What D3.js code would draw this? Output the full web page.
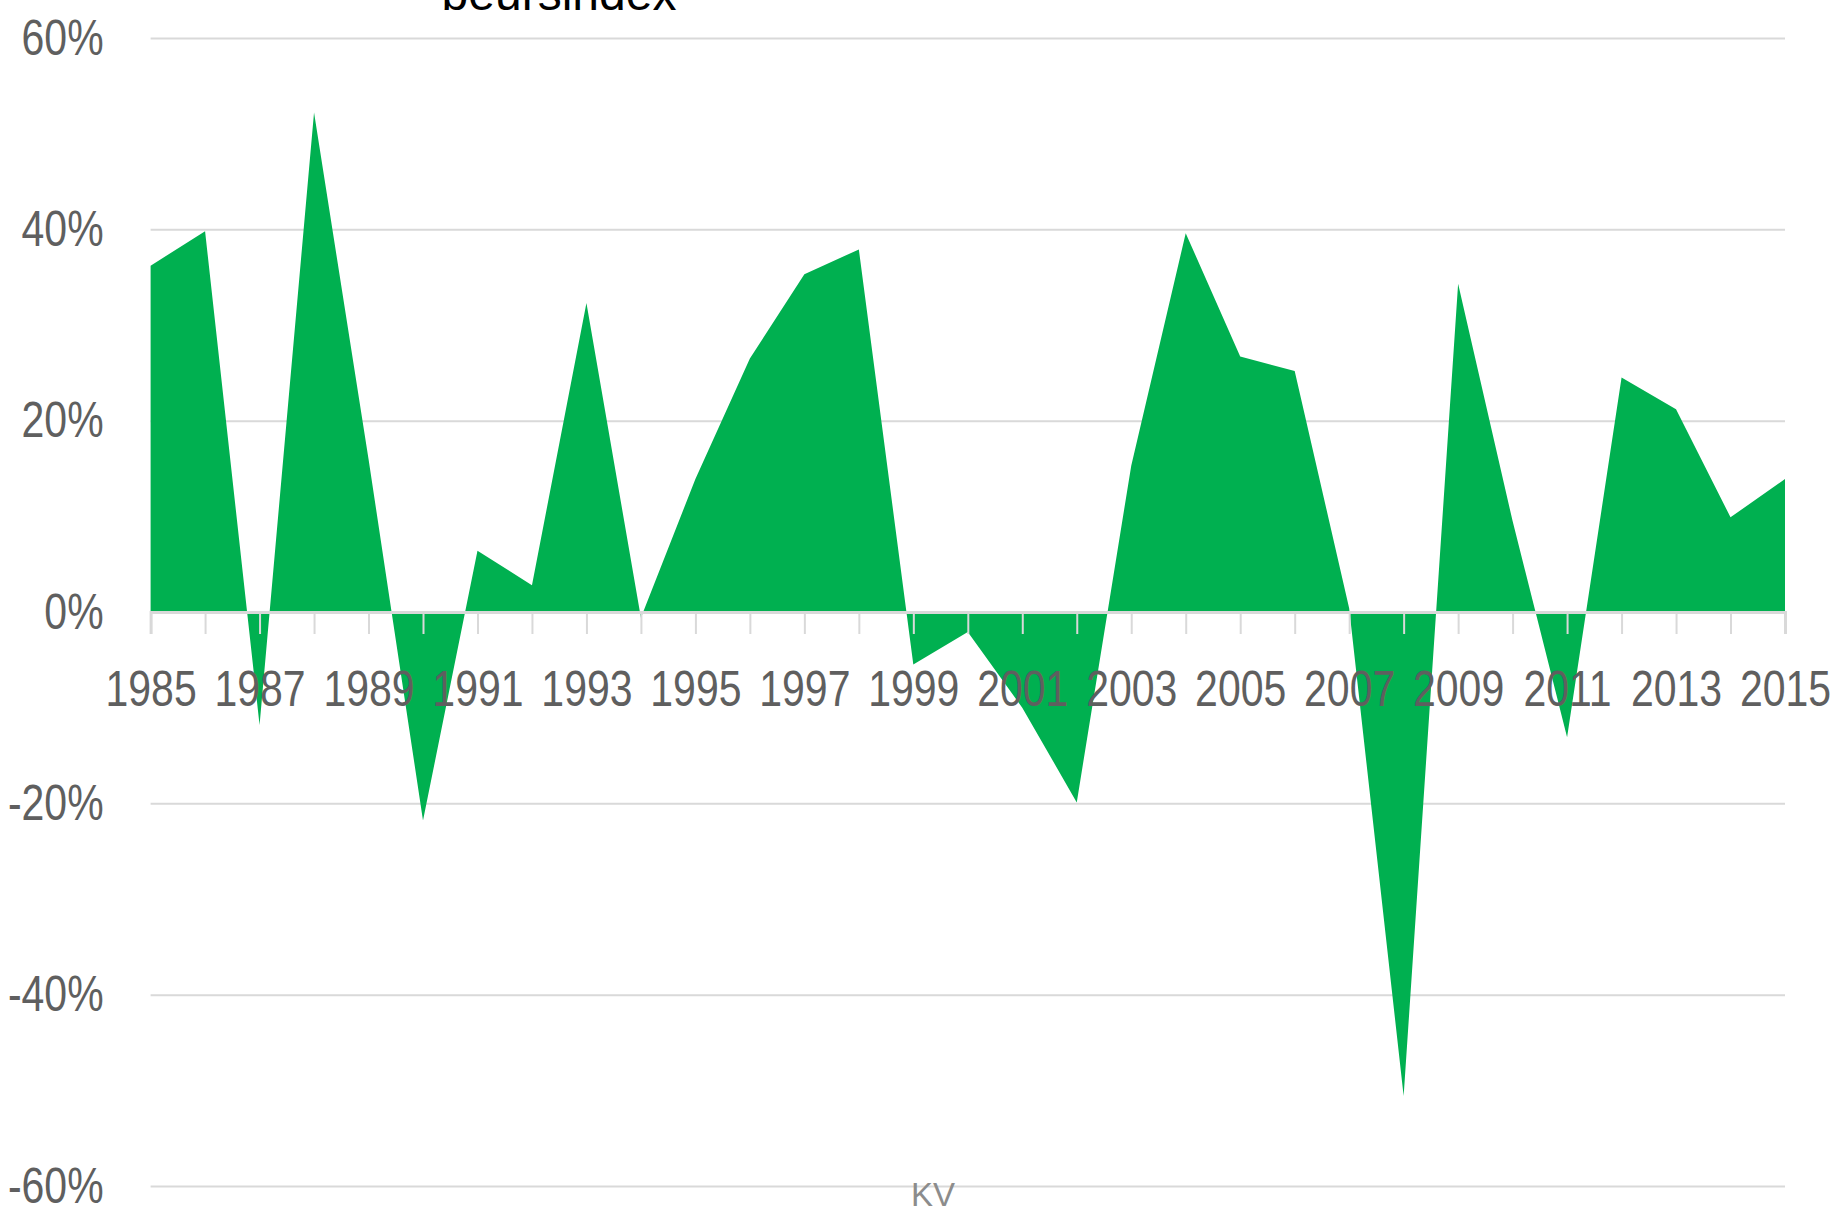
<!DOCTYPE html>
<html>
<head>
<meta charset="utf-8">
<title>beursindex</title>
<script src="https://cdn.jsdelivr.net/npm/d3@7/dist/d3.min.js"></script>
<style>
  html, body { margin: 0; padding: 0; background: #ffffff; }
  svg { display: block; }
  .axis-label { font-family: "Liberation Sans", Arial, sans-serif; fill: #5f5f5f; }
</style>
</head>
<body>
<svg id="chart" width="1845" height="1211"></svg>
<script>
// Yearly return of the stock index, in percent
const years = [1985, 1986, 1987, 1988, 1989, 1990, 1991, 1992, 1993, 1994,
               1995, 1996, 1997, 1998, 1999, 2000, 2001, 2002, 2003, 2004,
               2005, 2006, 2007, 2008, 2009, 2010, 2011, 2012, 2013, 2014, 2015];
const returns = [36.2, 39.8, -11.8, 52.2, 16.0, -21.8, 6.4, 2.8, 32.3, -0.6,
                 13.9, 26.5, 35.3, 37.9, -5.5, -2.1, -10.0, -19.9, 15.3, 39.6,
                 26.7, 25.2, 0.4, -50.6, 34.3, 9.5, -13.1, 24.5, 21.2, 9.9, 13.9];
const yTicks = [-60, -40, -20, 0, 20, 40, 60];
const yearLabels = [1985, 1987, 1989, 1991, 1993, 1995, 1997, 1999,
                    2001, 2003, 2005, 2007, 2009, 2011, 2013, 2015];
const titleText = "beursindex";
const footText = "KV";

const data = years.map((yr, i) => ({ year: yr, value: returns[i] }));

const svg = d3.select("#chart");
const plotLeft = 150.6, plotRight = 1785, plotTop = 38, plotBottom = 1186;
const labelSize = 50;     // axis label font size
const narrow = 0.82;      // horizontal squeeze for the condensed axis lettering

const x = d3.scaleLinear().domain([years[0], years[years.length - 1]]).range([plotLeft, plotRight]);
const y = d3.scaleLinear().domain([-60, 60]).range([plotBottom, plotTop]);

// Horizontal gridlines with the percentage labels
const yAxis = svg.append("g")
  .attr("transform", `translate(${plotLeft},0)`)
  .call(d3.axisLeft(y).tickValues(yTicks).tickSize(-(plotRight - plotLeft)).tickPadding(0)
        .tickFormat(d => d + "%"));
yAxis.select(".domain").remove();
yAxis.selectAll(".tick line").attr("stroke", "#d9d9d9").attr("stroke-width", 2);
yAxis.selectAll(".tick text")
  .attr("class", "axis-label")
  .attr("font-size", labelSize)
  .attr("x", 0)
  .attr("dy", "0.32em")
  .attr("transform", `translate(-47,0) scale(${narrow},1)`);

// Filled area between the returns and the zero line
const area = d3.area()
  .x(d => x(d.year))
  .y0(y(0))
  .y1(d => y(d.value));

svg.append("path")
  .datum(data)
  .attr("fill", "#00b050")
  .attr("d", area);

// Zero axis with a tick for every year, drawn over the area
const xAxis = svg.append("g")
  .attr("transform", `translate(0,${y(0)})`)
  .call(d3.axisBottom(x).tickValues(years).tickSize(22).tickFormat(""));
xAxis.select(".domain").attr("stroke", "#d9d9d9").attr("stroke-width", 3);
xAxis.selectAll(".tick line").attr("stroke", "#d9d9d9").attr("stroke-width", 2);

// Year labels on every other year
const xLabels = svg.append("g")
  .attr("transform", `translate(0,${y(0)})`)
  .call(d3.axisBottom(x).tickValues(yearLabels).tickSize(0).tickFormat(d3.format("d")));
xLabels.select(".domain").remove();
xLabels.selectAll(".tick text")
  .attr("class", "axis-label")
  .attr("font-size", labelSize)
  .attr("y", 94)
  .attr("dy", 0)
  .attr("transform", `scale(${narrow},1)`);

// Title (partly above the top edge) and footer
svg.append("text")
  .attr("x", 559)
  .attr("y", 10)
  .attr("text-anchor", "middle")
  .attr("font-family", "Liberation Sans, Arial, sans-serif")
  .attr("font-size", 48)
  .attr("fill", "#000000")
  .text(titleText);

svg.append("text")
  .attr("x", 933)
  .attr("y", 1206)
  .attr("text-anchor", "middle")
  .attr("font-family", "Liberation Sans, Arial, sans-serif")
  .attr("font-size", 33)
  .attr("fill", "#8c8c8c")
  .text(footText);
</script>
</body>
</html>
